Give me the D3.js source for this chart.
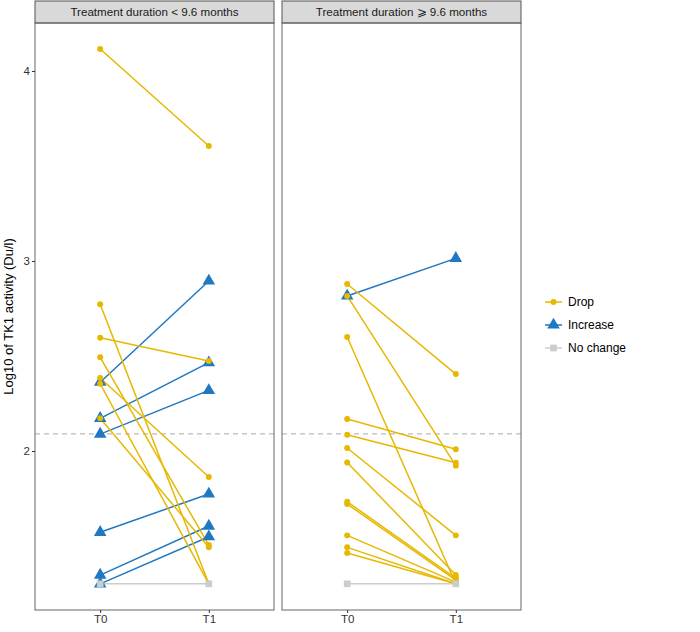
<!DOCTYPE html>
<html><head><meta charset="utf-8">
<script src="https://cdn.jsdelivr.net/npm/d3@7"></script>
<style>body{margin:0;background:#fff}svg{display:block;font-family:"Liberation Sans",Arial,Helvetica,sans-serif}</style>
</head><body><svg id="c" width="700" height="632"></svg>
<script>
const panelTitles = ["Treatment duration < 9.6 months", "Treatment duration \u2A7E 9.6 months"];
const timepoints = ["T0", "T1"];
const changeTypes = ["Drop", "Increase", "No change"];
const yTicks = [2, 3, 4];
const cutoff = 2.09;

// Panel 1: treatment duration < 9.6 months
const shortT0 =     [4.116, 2.772, 2.596, 2.493, 2.384, 2.354, 2.172, 2.362, 2.172, 2.089, 1.572, 1.347, 1.301, 1.301];
const shortT1 =     [3.605, 1.301, 2.474, 1.505, 1.863, 1.301, 1.493, 2.895, 2.465, 2.319, 1.774, 1.605, 1.549, 1.301];
const shortChange = ["Drop","Drop","Drop","Drop","Drop","Drop","Drop","Increase","Increase","Increase","Increase","Increase","Increase","No change"];

// Panel 2: treatment duration >= 9.6 months
const longT0 =     [2.879, 2.816, 2.600, 2.168, 2.086, 2.016, 1.940, 1.733, 1.721, 1.556, 1.493, 1.463, 2.816, 1.301];
const longT1 =     [2.405, 1.923, 1.301, 2.009, 1.938, 1.556, 1.347, 1.330, 1.320, 1.310, 1.301, 1.301, 3.014, 1.301];
const longChange = ["Drop","Drop","Drop","Drop","Drop","Drop","Drop","Drop","Drop","Drop","Drop","Drop","Increase","No change"];

const colors = {"Drop":"#E7B800","Increase":"#1F78C1","No change":"#CCCCCC"};

(function () {
const svg = d3.select("#c");
const pTop = 23, pBottom = 610;
const y = d3.scaleLinear().domain([1.1632, 4.2526]).range([pBottom, pTop]);
const panels = [
  {title: panelTitles[0], x0: 35, x1: 274, t0: shortT0, t1: shortT1, ch: shortChange},
  {title: panelTitles[1], x0: 282, x1: 521, t0: longT0, t1: longT1, ch: longChange}
];
const lineOrder = ["No change","Increase","Drop"];
const pointOrder = ["Increase","Drop","No change"];
const sym = {
  "Drop": d3.symbol().type(d3.symbolCircle).size(28),
  "Increase": d3.symbol().type(d3.symbolTriangle).size(68),
  "No change": d3.symbol().type(d3.symbolSquare).size(45)
};

panels.forEach((p, pi) => {
  const x = d3.scalePoint().domain(timepoints).range([p.x0, p.x1]).padding(0.6);
  const g = svg.append("g");
  g.append("rect").attr("x", p.x0).attr("y", 1).attr("width", p.x1 - p.x0).attr("height", pTop - 1)
    .attr("fill", "#D9D9D9").attr("stroke", "#555").attr("stroke-width", 1);
  g.append("text").attr("x", (p.x0 + p.x1) / 2).attr("y", 16).attr("text-anchor", "middle")
    .attr("font-size", 11.6).attr("fill", "#1a1a1a").text(p.title);
  g.append("line").attr("x1", p.x0).attr("x2", p.x1).attr("y1", y(cutoff)).attr("y2", y(cutoff))
    .attr("stroke", "#AAAAAA").attr("stroke-width", 1).attr("stroke-dasharray", "5,4");
  const rows = p.t0.map((v, i) => ({a: v, b: p.t1[i], c: p.ch[i]}));
  const sortedL = lineOrder.flatMap(c => rows.filter(r => r.c === c));
  const sortedP = pointOrder.flatMap(c => rows.filter(r => r.c === c));
  g.selectAll("line.seg").data(sortedL).join("line").attr("class", "seg")
    .attr("x1", x("T0")).attr("x2", x("T1")).attr("y1", d => y(d.a)).attr("y2", d => y(d.b))
    .attr("stroke", d => colors[d.c]).attr("stroke-width", 1.5);
  const pts = sortedP.flatMap(d => [{t: "T0", v: d.a, c: d.c}, {t: "T1", v: d.b, c: d.c}]);
  g.selectAll("path.pt").data(pts).join("path").attr("class", "pt")
    .attr("transform", d => `translate(${x(d.t)},${y(d.v)})`)
    .attr("d", d => sym[d.c]()).attr("fill", d => colors[d.c]);
  g.append("rect").attr("x", p.x0).attr("y", pTop).attr("width", p.x1 - p.x0).attr("height", pBottom - pTop)
    .attr("fill", "none").attr("stroke", "#666").attr("stroke-width", 1);
  const xa = g.append("g").attr("transform", `translate(0,${pBottom})`)
    .call(d3.axisBottom(x).tickSize(3).tickPadding(2));
  xa.select(".domain").remove();
  xa.selectAll("line").attr("stroke", "#333");
  xa.selectAll("text").attr("font-size", 11.5).attr("fill", "#333").attr("font-family", null);
  if (pi === 0) {
    const ya = g.append("g").attr("transform", `translate(${p.x0},0)`)
      .call(d3.axisLeft(y).tickValues(yTicks).tickFormat(d3.format("d")).tickSize(3).tickPadding(2));
    ya.select(".domain").remove();
    ya.selectAll("line").attr("stroke", "#333");
    ya.selectAll("text").attr("font-size", 11.5).attr("fill", "#333").attr("font-family", null);
  }
});

svg.append("text").attr("transform", `translate(13,${(pTop + pBottom) / 2}) rotate(-90)`)
  .attr("text-anchor", "middle").attr("font-size", 13).attr("fill", "#000")
  .text("Log10 of TK1 activity (Du/l)");

const leg = svg.append("g");
changeTypes.forEach((c, i) => {
  const ly = 302 + i * 23;
  leg.append("line").attr("x1", 545).attr("x2", 562).attr("y1", ly).attr("y2", ly)
    .attr("stroke", colors[c]).attr("stroke-width", 1.5);
  leg.append("path").attr("transform", `translate(553.5,${ly})`).attr("d", sym[c]()).attr("fill", colors[c]);
  leg.append("text").attr("x", 568).attr("y", ly + 4).attr("font-size", 12).attr("fill", "#000").text(c);
});
})();
</script></body></html>
